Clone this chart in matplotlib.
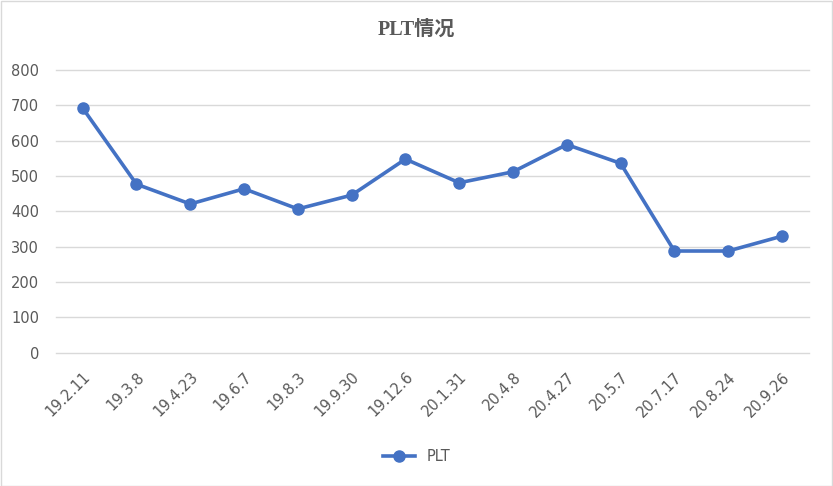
import matplotlib.pyplot as plt
from matplotlib.patches import Rectangle

dates = ["19.2.11", "19.3.8", "19.4.23", "19.6.7", "19.8.3", "19.9.30", "19.12.6",
         "20.1.31", "20.4.8", "20.4.27", "20.5.7", "20.7.17", "20.8.24", "20.9.26"]
plt_values = [692, 477, 421, 464, 407, 446, 548, 481, 512, 589, 536, 288, 288, 330]
y_ticks = [0, 100, 200, 300, 400, 500, 600, 700, 800]

grey = "#595959"
blue = "#4472C4"

fig = plt.figure(figsize=(8.33, 4.86), dpi=100)
ax = fig.add_axes([0.067, 0.274, 0.904, 0.582])

x = list(range(len(dates)))
ax.plot(x, plt_values, color=blue, linewidth=2.6, marker="o", markersize=8,
        label="PLT", zorder=3)

ax.set_xlim(-0.5, len(dates) - 0.5)
ax.set_ylim(0, 800)
ax.set_yticks(y_ticks)
ax.set_xticks(x)
ax.set_xticklabels(dates, rotation=45, ha="right", rotation_mode="anchor")
ax.tick_params(axis="both", length=0, labelsize=10.5, labelcolor=grey)
ax.tick_params(axis="x", pad=12)
ax.tick_params(axis="y", pad=12)
for t in y_ticks:
    ax.axhline(t, color="#D9D9D9", linewidth=1, zorder=1, clip_on=False)
for s in ax.spines.values():
    s.set_visible(False)

fig.text(0.5, 0.938, "PLT情况", ha="center", va="center", fontsize=14.5,
         fontweight="bold", color=grey,
         family=["Liberation Serif", "Noto Sans CJK SC"])

fig.legend(loc="center", bbox_to_anchor=(0.5, 0.061), frameon=False,
           fontsize=10.5, labelcolor=grey, handlelength=2.2)

fig.patches.append(Rectangle((0.001, 0.001), 0.998, 0.997, transform=fig.transFigure,
                             fill=False, edgecolor="#D9D9D9", linewidth=1))

fig.savefig("out.png", dpi=100)
